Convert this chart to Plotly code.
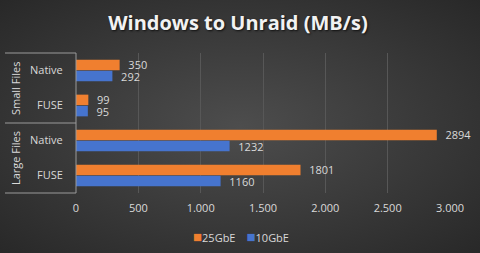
import plotly.graph_objects as go
import base64

categories = ["Native", "FUSE", "Native", "FUSE"]
groups = ["Small Files", "Large Files"]
series_names = ["25GbE", "10GbE"]
values_25 = [350, 99, 2894, 1801]
values_10 = [292, 95, 1232, 1160]
colors = ["#F07F2F", "#4674CE"]
x_ticks = [0, 500, 1000, 1500, 2000, 2500, 3000]
x_ticktext = ["0", "500", "1.000", "1.500", "2.000", "2.500", "3.000"]

W, H = 480, 253
L, R, T, B = 76, 30, 53, 60

pos = list(range(len(categories)))

svg = f'''<svg xmlns="http://www.w3.org/2000/svg" width="{W}" height="{H}">
<defs><radialGradient id="g" cx="50%" cy="50%" r="75%">
<stop offset="0%" stop-color="#4d4d4d"/><stop offset="100%" stop-color="#262626"/>
</radialGradient></defs>
<rect width="{W}" height="{H}" fill="url(#g)"/></svg>'''
bg_uri = "data:image/svg+xml;base64," + base64.b64encode(svg.encode()).decode()

fig = go.Figure()
for name, vals, col in zip(series_names, [values_25, values_10], colors):
    fig.add_trace(go.Bar(
        y=pos, x=vals, orientation="h", name=name, showlegend=False,
        marker=dict(color=col, line=dict(width=0)),
        text=["\u00a0\u00a0" + str(v) for v in vals], textposition="outside",
        constraintext="none",
        textfont=dict(color="#d9d9d9", size=11, family="Open Sans"),
        cliponaxis=False,
    ))

fig.update_layout(
    width=W, height=H,
    margin=dict(l=L, r=R, t=T, b=B, autoexpand=False),
    paper_bgcolor="#2e2e2e", plot_bgcolor="rgba(0,0,0,0)",
    barmode="group", bargap=0.36, bargroupgap=0.06,
    separators=",.",
    font=dict(family="Open Sans", color="#d9d9d9", size=11),
    title=dict(text="<b>Windows to Unraid (MB/s)</b>", x=238 / W, xanchor="center",
               xref="container", y=1 - 23 / H, yanchor="middle",
               font=dict(size=20, color="#f2f2f2", family="Open Sans",
                         shadow="1px 1px 2px #111111")),
    showlegend=False,
    images=[dict(source=bg_uri, xref="paper", yref="paper",
                 x=-L / (W - L - R), y=1 + T / (H - T - B),
                 sizex=W / (W - L - R), sizey=H / (H - T - B),
                 xanchor="left", yanchor="top", sizing="stretch", layer="below")],
)

fig.update_xaxes(range=[0, 3000], tickvals=x_ticks, ticktext=x_ticktext,
                 showgrid=True, gridcolor="#575757", gridwidth=1,
                 zeroline=False, showline=False,
                 ticks="outside", ticklen=5, tickcolor="rgba(0,0,0,0)",
                 tickfont=dict(size=11, color="#d9d9d9"))
fig.update_yaxes(tickvals=pos, ticktext=categories, autorange=False, range=[3.5, -0.5],
                 showgrid=False, zeroline=False, showline=False,
                 ticks="outside", ticklen=10, tickcolor="rgba(0,0,0,0)",
                 tickfont=dict(size=11, color="#d9d9d9"))

line_col = "#9a9a9a"

def px_x(px):
    return (px - L) / (W - L - R)

shapes = []
shapes.append(dict(type="line", xref="paper", yref="paper", x0=0, x1=0, y0=0, y1=1,
                   line=dict(color=line_col, width=1)))
for yy in [0, 0.5, 1]:
    shapes.append(dict(type="line", xref="paper", yref="paper", x0=px_x(5), x1=0,
                       y0=yy, y1=yy, line=dict(color=line_col, width=1)))
fig.update_layout(shapes=shapes)

for i, g in enumerate(groups):
    fig.add_annotation(text=g, xref="paper", yref="paper", x=px_x(15), y=0.75 - 0.5 * i,
                       textangle=-90, showarrow=False, xanchor="center", yanchor="middle",
                       font=dict(size=11, color="#d9d9d9"))

# legend drawn as a single text line with coloured squares
legend_text = "\u2003".join(
    f"<span style='color:{c};font-size:15px'>\u25A0</span>{n}"
    for n, c in zip(series_names, colors)
)
fig.add_annotation(text=legend_text, xref="paper", yref="paper",
                   x=px_x(241), y=-(236 - (H - B)) / (H - T - B),
                   showarrow=False, xanchor="center", yanchor="middle",
                   font=dict(size=11, color="#d9d9d9"))

fig.write_html("out.html")
